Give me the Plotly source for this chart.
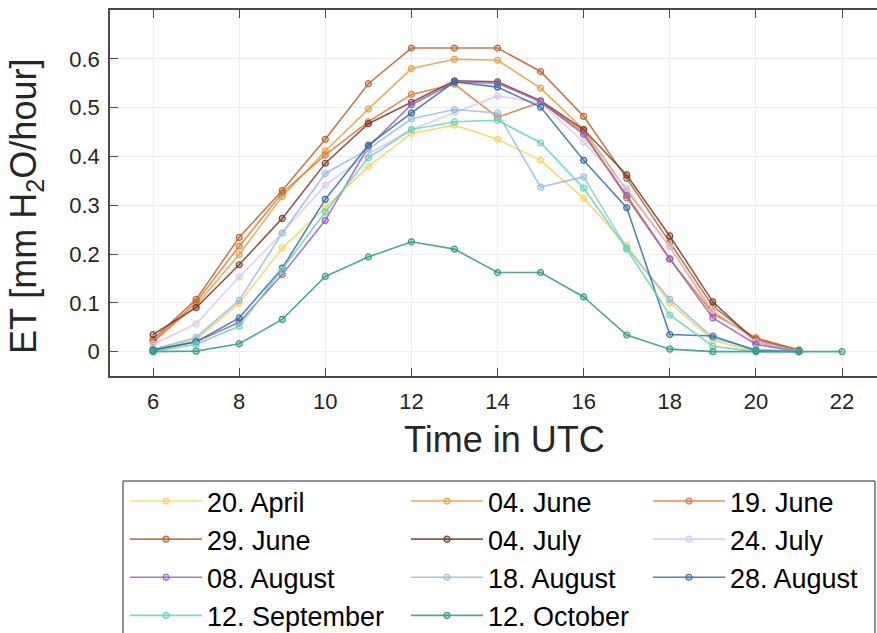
import plotly.graph_objects as go

# Hourly evapotranspiration per day (mm H2O / hour), hours in UTC
hours = list(range(6, 22))
hours_oct = list(range(6, 23))

et_20_april = [0.005, 0.025, 0.099, 0.212, 0.295, 0.379, 0.447, 0.464, 0.435, 0.392, 0.314, 0.218, 0.100, 0.023, 0.000, 0.000]
et_04_june = [0.020, 0.095, 0.199, 0.318, 0.411, 0.497, 0.580, 0.599, 0.597, 0.540, 0.455, 0.330, 0.215, 0.080, 0.028, 0.002]
et_19_june = [0.020, 0.101, 0.216, 0.325, 0.403, 0.471, 0.527, 0.548, 0.480, 0.511, 0.450, 0.315, 0.190, 0.078, 0.028, 0.003]
et_29_june = [0.025, 0.107, 0.234, 0.330, 0.435, 0.549, 0.622, 0.622, 0.622, 0.574, 0.482, 0.355, 0.224, 0.093, 0.025, 0.003]
et_04_july = [0.035, 0.090, 0.178, 0.273, 0.386, 0.467, 0.511, 0.555, 0.553, 0.514, 0.455, 0.362, 0.237, 0.102, 0.020, 0.002]
et_24_july = [0.015, 0.057, 0.153, 0.243, 0.341, 0.405, 0.455, 0.490, 0.524, 0.510, 0.429, 0.335, 0.215, 0.085, 0.020, 0.001]
et_08_august = [0.003, 0.020, 0.060, 0.158, 0.269, 0.420, 0.506, 0.552, 0.550, 0.512, 0.445, 0.320, 0.190, 0.069, 0.015, 0.000]
et_18_august = [0.005, 0.029, 0.105, 0.243, 0.365, 0.415, 0.477, 0.496, 0.489, 0.337, 0.358, 0.212, 0.107, 0.028, 0.005, 0.000]
et_28_august = [0.003, 0.020, 0.069, 0.171, 0.312, 0.423, 0.489, 0.553, 0.542, 0.501, 0.392, 0.295, 0.035, 0.032, 0.002, 0.000]
et_12_september = [0.000, 0.015, 0.052, 0.168, 0.286, 0.397, 0.455, 0.471, 0.474, 0.428, 0.335, 0.210, 0.075, 0.011, 0.000, 0.000]
et_12_october = [0.000, 0.001, 0.016, 0.066, 0.154, 0.194, 0.225, 0.210, 0.162, 0.162, 0.112, 0.034, 0.005, 0.000, 0.000, 0.000, 0.000]

day_labels = ["20. April", "04. June", "19. June", "29. June", "04. July", "24. July",
              "08. August", "18. August", "28. August", "12. September", "12. October"]
day_colors = ["#F5D25A", "#E3A03C", "#DE7A35", "#B9632E", "#7E3A2A", "#DCC4EA",
              "#9B5CC0", "#92BDE0", "#2F6DA6", "#5FD6B8", "#2C9C7E"]
day_values = [et_20_april, et_04_june, et_19_june, et_29_june, et_04_july, et_24_july,
              et_08_august, et_18_august, et_28_august, et_12_september, et_12_october]

x_ticks = list(range(6, 23, 2))
y_ticks = [0, 0.1, 0.2, 0.3, 0.4, 0.5, 0.6]
y_ticktext = ["0", "0.1", "0.2", "0.3", "0.4", "0.5", "0.6"]

W, H = 877, 633
legend_ids = ["legend", "legend2", "legend3"]   # one legend per column, filled row-wise
legend_col_px = [125, 406, 648]


def hex_rgba(h, a):
    h = h.lstrip("#")
    r, g, b = int(h[0:2], 16), int(h[2:4], 16), int(h[4:6], 16)
    return f"rgba({r},{g},{b},{a})"


fig = go.Figure()
for i, (label, color, values) in enumerate(zip(day_labels, day_colors, day_values)):
    xs = hours_oct if len(values) == len(hours_oct) else hours
    fig.add_trace(go.Scatter(
        x=xs, y=values, name=label, mode="lines+markers",
        legend=legend_ids[i % 3],
        line=dict(color=hex_rgba(color, 0.85), width=1.6),
        marker=dict(symbol="circle", size=6, color=hex_rgba(color, 0.35),
                    line=dict(color=hex_rgba(color, 0.95), width=1.2)),
    ))

axis_col = "#4a4a4a"
font_family = "Liberation Sans, Arial, sans-serif"
tick_font = dict(family=font_family, size=22, color="#262626")
title_font = dict(family=font_family, size=36, color="#262626")

px_per_hour = 43.06
x_left_px, x_right_px = 110, W

legend_style = dict(
    orientation="v", xanchor="left", y=1 - 477 / H, yanchor="top",
    font=dict(family=font_family, size=27, color="black"),
    itemwidth=72, bgcolor="rgba(0,0,0,0)", borderwidth=0, traceorder="normal",
)
legends = {lid: dict(x=px / W, **legend_style) for lid, px in zip(legend_ids, legend_col_px)}

fig.update_layout(
    width=W, height=H,
    margin=dict(l=0, r=0, t=0, b=0, autoexpand=False),
    paper_bgcolor="white", plot_bgcolor="white",
    showlegend=True,
    xaxis=dict(
        domain=[x_left_px / W, 1.0],
        range=[5, 5 + (x_right_px - x_left_px) / px_per_hour],
        tickvals=x_ticks, ticks="inside", ticklen=8, tickwidth=1.3, tickcolor=axis_col,
        showline=True, linecolor=axis_col, linewidth=1.5, mirror="ticks",
        showgrid=True, gridcolor="#eeeeee", gridwidth=1, zeroline=False,
        tickfont=tick_font, automargin=False, ticklabelstandoff=5,
    ),
    yaxis=dict(
        domain=[1 - 376 / H, 1 - 10 / H],
        range=[-0.05, 0.7],
        tickvals=y_ticks, ticktext=y_ticktext, ticks="inside", ticklen=8, tickwidth=1.3,
        tickcolor=axis_col, showline=True, linecolor=axis_col, linewidth=1.5, mirror=False,
        showgrid=True, gridcolor="#eeeeee", gridwidth=1, zeroline=False,
        tickfont=tick_font, automargin=False, ticklabelstandoff=4,
    ),
    annotations=[
        dict(text="Time in UTC", x=504 / W, y=1 - 439 / H, xref="paper", yref="paper",
             xanchor="center", yanchor="middle", showarrow=False, font=title_font),
        dict(text="ET [mm H<sub>2</sub>O/hour]", x=26 / W, y=1 - 207 / H, xref="paper",
             yref="paper", xanchor="center", yanchor="middle", textangle=-90,
             showarrow=False, font=title_font),
    ],
    shapes=[
        dict(type="rect", xref="paper", yref="paper", x0=123 / W, x1=875 / W,
             y0=-0.1, y1=1 - 481 / H, line=dict(color="#262626", width=1),
             fillcolor="rgba(0,0,0,0)", layer="below"),
    ],
    **legends,
)

fig.write_html("out.html")
